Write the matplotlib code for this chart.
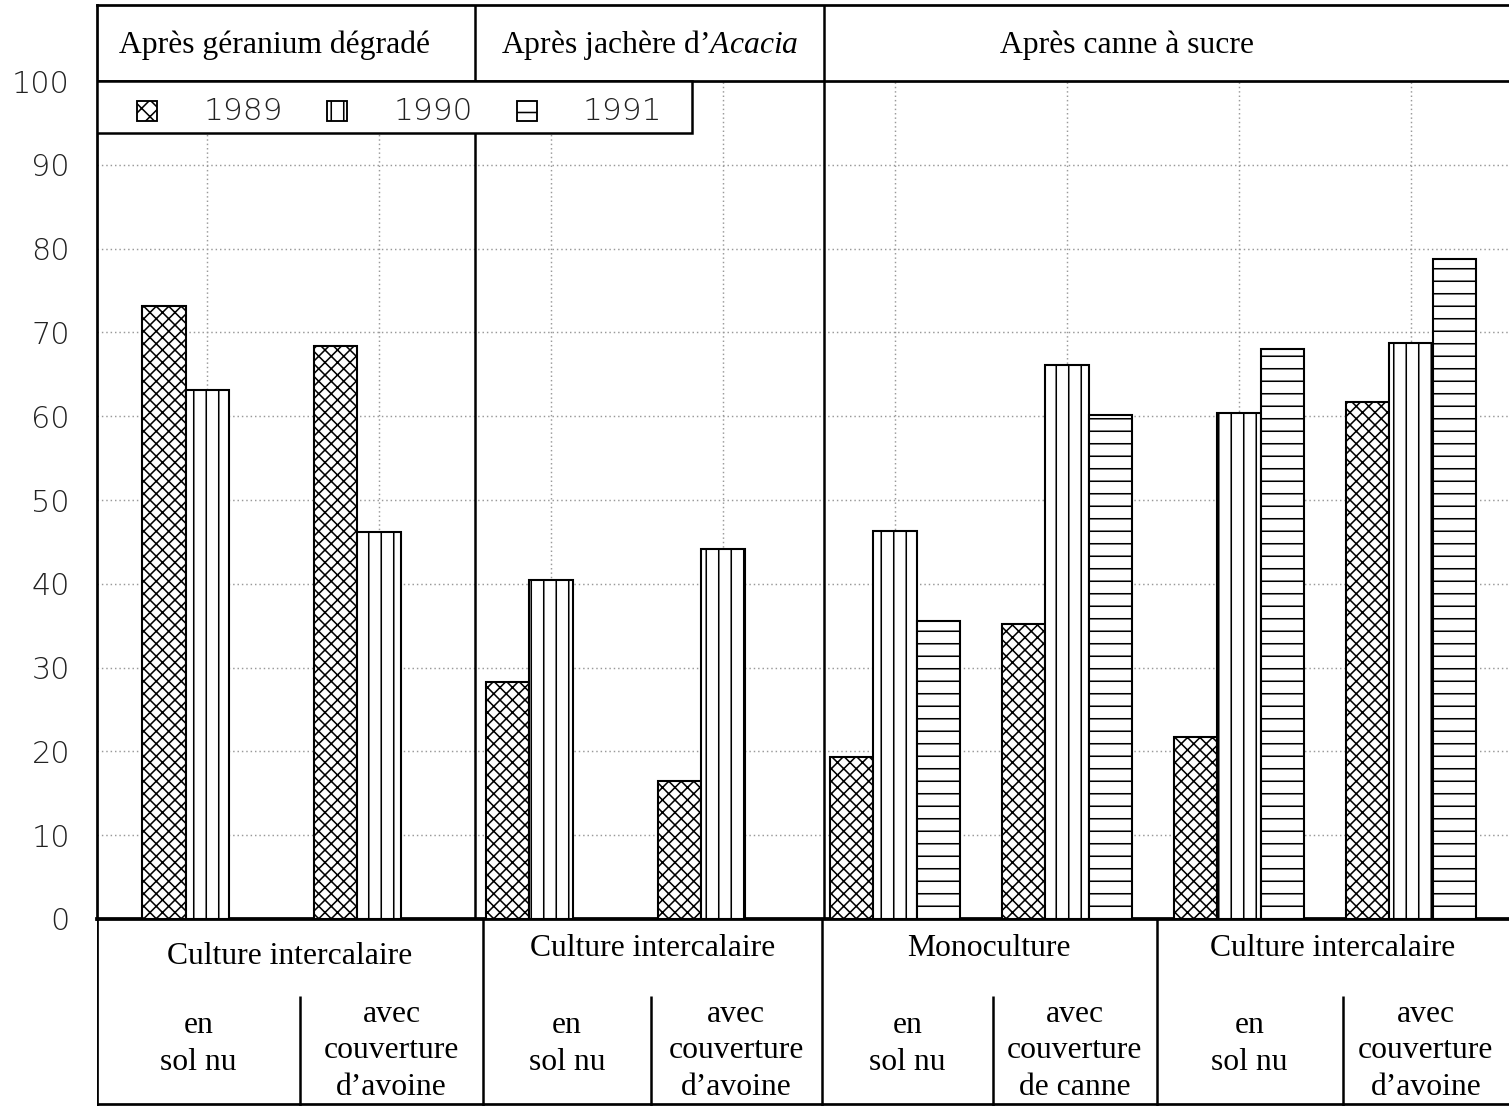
import numpy as np
import matplotlib.pyplot as plt
from matplotlib.patches import Rectangle

# Data: 8 treatments, percentages for 3 years (1991 missing in the first 4)
years = ['1989', '1990', '1991']
v1989 = [73.1, 68.4, 28.3, 16.5, 19.3, 35.2, 21.7, 61.7]
v1990 = [63.1, 46.2, 40.5, 44.2, 46.3, 66.1, 60.4, 68.7]
v1991 = [np.nan, np.nan, np.nan, np.nan, 35.6, 60.1, 68.0, 78.8]
hatches = ['xxxx', '||', '--']

headers = ['Après géranium dégradé', 'Après jachère d\u2019$\\it{Acacia}$', 'Après canne à sucre']
systems = ['Culture intercalaire', 'Culture intercalaire', 'Monoculture', 'Culture intercalaire']
subs = ['en\nsol nu', 'avec\ncouverture\nd\u2019avoine',
        'en\nsol nu', 'avec\ncouverture\nd\u2019avoine',
        'en\nsol nu', 'avec\ncouverture\nde canne',
        'en\nsol nu', 'avec\ncouverture\nd\u2019avoine']

# layout (x in group units)
w = 0.253
xmin, xmax = -0.262, 7.95
top_seps = [1.936, 3.965]
header_x = [0.773, 2.953, 5.727]
main_seps = [1.983, 3.953, 5.901]
sub_seps = [0.919, 2.959, 4.948, 6.983]

plt.rcParams['hatch.linewidth'] = 0.75
plt.rcParams['mathtext.fontset'] = 'custom'
plt.rcParams['mathtext.rm'] = 'Liberation Serif'
plt.rcParams['mathtext.it'] = 'Liberation Serif:italic'
serif = 'Liberation Serif'
fs = 15.2

fig = plt.figure(figsize=(1509 / 150, 1106 / 150), dpi=150)
ax = fig.add_axes([97 / 1509, 1 - 919 / 1106, 1 - 97 / 1509, 914 / 1106])

x = np.arange(len(v1989))
for j, vals in enumerate([v1989, v1990, v1991]):
    ax.bar(x + j * w, vals, width=w, align='edge', facecolor='white',
           edgecolor='black', linewidth=1.0, hatch=hatches[j], zorder=3)

ax.set_xlim(xmin, xmax)
ax.set_ylim(0, 109.07)
ax.set_yticks(np.arange(0, 101, 10))
ax.set_yticklabels([str(t) for t in range(0, 101, 10)], fontsize=14.5,
                   fontweight='light', color='#222')
ax.tick_params(axis='y', length=0, pad=13)
ax.set_xticks([])

# dotted grid limited to the plotting area
ax.hlines(np.arange(10, 100, 10), xmin, xmax, colors='#999', linestyles=(0, (1, 2)),
          linewidth=0.7, zorder=1)
ax.vlines(x + 1.5 * w, 0, 100, colors='#999', linestyles=(0, (1, 2)),
          linewidth=0.7, zorder=1)

# header band
ax.axhline(100, color='black', linewidth=1.3, zorder=4)
ax.vlines(top_seps, 0, 109.07, colors='black', linewidth=1.2, zorder=4)
for hx, h in zip(header_x, headers):
    ax.text(hx, 104.3, h, ha='center', va='center', fontsize=fs, family=serif)

ax.spines['right'].set_visible(False)
ax.spines['left'].set_linewidth(1.3)
ax.spines['top'].set_linewidth(1.3)
ax.spines['bottom'].set_linewidth(1.8)

# legend box drawn in the top-left corner
ax.add_patch(Rectangle((xmin, 93.8), 3.198 - xmin, 100 - 93.8, facecolor='white',
                       edgecolor='black', linewidth=1.2, zorder=5))
leg_x = [-0.029, 1.076, 2.18]
leg_hatch = ['xxx', '||', '-']
for k in range(3):
    ax.add_patch(Rectangle((leg_x[k], 95.2), 0.116, 2.4, facecolor='white',
                           edgecolor='black', linewidth=0.9, hatch=leg_hatch[k],
                           zorder=6))
    ax.text(leg_x[k] + 0.384, 96.35, years[k], ha='left', va='center', fontsize=15,
            fontweight='light', color='#222', zorder=6)

# table below the bars
tb = fig.add_axes([97 / 1509, 0, 1 - 97 / 1509, 1 - 919 / 1106])
tb.set_xlim(xmin, xmax)
tb.set_ylim(0, 1)
tb.axis('off')
tb.axvline(xmin, color='black', linewidth=1.3)
tb.axhline(0.012, color='black', linewidth=1.3)
tb.vlines(main_seps, 0, 1, colors='black', linewidth=1.2)
tb.vlines(sub_seps, 0, 0.59, colors='black', linewidth=1.2)

bounds = [xmin] + main_seps + [xmax]
for k, s in enumerate(systems):
    yy = 0.80 if k == 0 else 0.84
    tb.text((bounds[k] + bounds[k + 1]) / 2, yy, s, ha='center', va='center',
            fontsize=fs, family=serif)

cells = []
for k in range(4):
    cells += [bounds[k], sub_seps[k]]
cells += [xmax]
for k, s in enumerate(subs):
    yy = 0.33 if s.startswith('en') else 0.295
    tb.text((cells[k] + cells[k + 1]) / 2, yy, s, ha='center', va='center',
            fontsize=fs, family=serif, linespacing=1.35)

fig.savefig('out.png', dpi=150)
